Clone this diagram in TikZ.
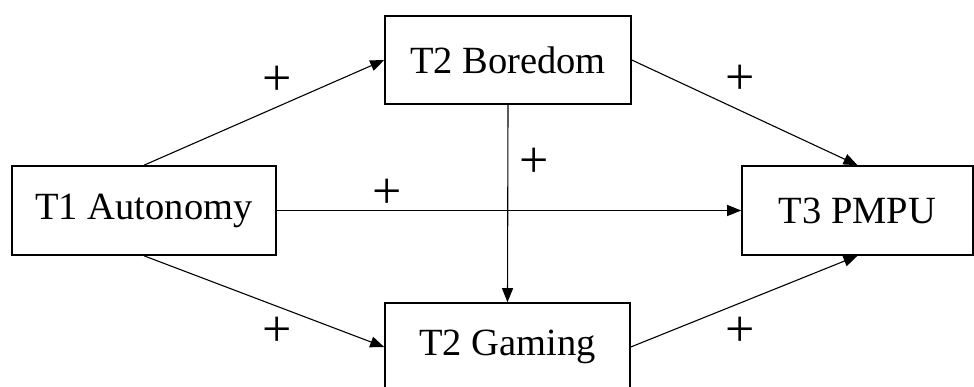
\documentclass[tikz,border=0pt]{standalone}
\usepackage{fontspec}
\setmainfont{Liberation Serif}
\usetikzlibrary{arrows.meta}
\begin{document}
\begin{tikzpicture}[x=1pt,y=-1pt,
  box/.style={draw,line width=1.6pt,rectangle,inner sep=0pt,font=\fontsize{38.5}{46}\selectfont},
  conn/.style={line width=1.1pt,-{Triangle[length=14pt,width=11pt]}},
  sign/.style={font=\fontsize{52}{60}\selectfont,inner sep=0pt}]
\useasboundingbox (0,0) rectangle (974,387);
\node[box,minimum width=246pt,minimum height=88pt] (bor) at (508,60) {T2 Boredom};
\node[box,minimum width=264pt,minimum height=89pt] (aut) at (144,210.5) {T1 Autonomy};
\node[box,minimum width=231pt,minimum height=89pt] (pmpu) at (857.5,210.5) {T3 PMPU};
\node[box,minimum width=245pt,minimum height=88pt] (gam) at (507.5,347) {T2 Gaming};
\draw[conn] (aut.north) -- (bor.west);
\draw[conn] (bor.east) -- (pmpu.north);
\draw[conn] (aut.east) -- (pmpu.west);
\draw[conn] (bor.south) -- (gam.north);
\draw[conn] (aut.south) -- (gam.west);
\draw[conn] (gam.east) -- (pmpu.south);
\node[sign] (p1) at (277,81) {+};
\node[sign] (p2) at (740,80) {+};
\node[sign] (p3) at (534,163) {+};
\node[sign] (p4) at (387,194) {+};
\node[sign] (p5) at (277,332) {+};
\node[sign] (p6) at (740,332) {+};
\end{tikzpicture}
\end{document}
